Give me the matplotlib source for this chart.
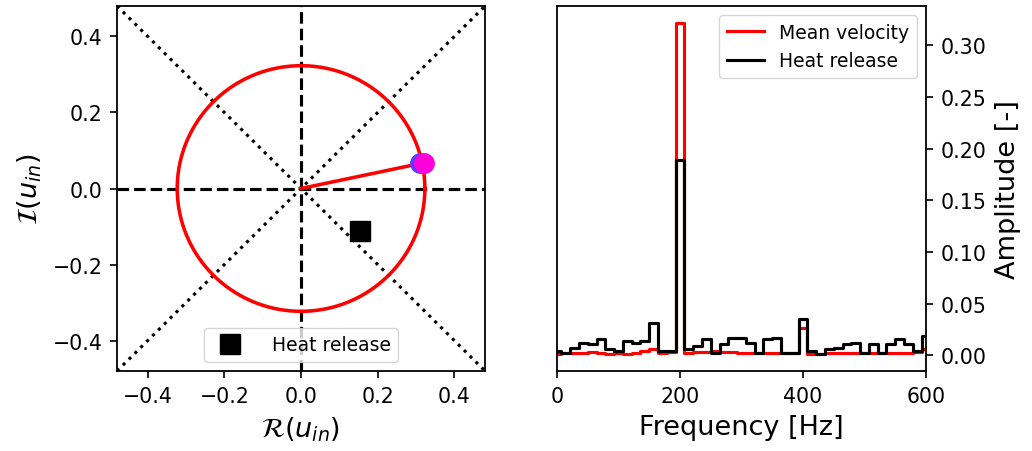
import numpy as np
import matplotlib
matplotlib.use("Agg")
import matplotlib.pyplot as plt

# ---- data ----
circle_radius = 0.323
vel_point = (0.322, 0.068)
vel_point_prev = (0.310, 0.066)
heat_point = (0.153, -0.113)

df = 100.0 / 7.0
freqs = np.arange(43) * df
mean_velocity = [0.0010, 0.0019, 0.0026, 0.0026, 0.0032, 0.0019, 0.0010, 0.0026, 0.0010, 0.0026,
                 0.0042, 0.0058, 0.0026, 0.0032, 0.3220, 0.0026, 0.0032, 0.0032, 0.0042, 0.0032,
                 0.0032, 0.0026, 0.0019, 0.0026, 0.0026, 0.0026, 0.0019, 0.0026, 0.0270, 0.0010,
                 0.0010, 0.0019, 0.0019, 0.0026, 0.0026, 0.0019, 0.0026, 0.0026, 0.0019, 0.0026,
                 0.0026, 0.0032, 0.0058]
heat_release = [0.0042, 0.0019, 0.0074, 0.0122, 0.0106, 0.0155, 0.0058, 0.0042, 0.0139, 0.0122,
                0.0139, 0.0310, 0.0042, 0.0042, 0.1890, 0.0058, 0.0090, 0.0155, 0.0026, 0.0106,
                0.0171, 0.0171, 0.0122, 0.0026, 0.0155, 0.0171, 0.0026, 0.0026, 0.0349, 0.0042,
                0.0010, 0.0058, 0.0074, 0.0106, 0.0122, 0.0026, 0.0106, 0.0026, 0.0106, 0.0155,
                0.0106, 0.0042, 0.0187]

plt.rcParams['axes.linewidth'] = 1.3
plt.rcParams['xtick.major.size'] = 5.3
plt.rcParams['ytick.major.size'] = 5.3
plt.rcParams['xtick.major.width'] = 1.2
plt.rcParams['ytick.major.width'] = 1.2
plt.rcParams['xtick.major.pad'] = 5.3
plt.rcParams['ytick.major.pad'] = 5.3
plt.rcParams['axes.labelpad'] = 6

LW = 2.25
fig = plt.figure(figsize=(10.32, 4.52), dpi=100)

# ---- left panel ----
ax1 = fig.add_axes([0.1134, 0.177, 0.3566, 0.8075])
L = 0.48
ax1.plot([-L, L], [-L, L], ':', color='black', lw=LW)
ax1.plot([-L, L], [L, -L], ':', color='black', lw=LW)
ax1.axhline(0, ls='--', color='black', lw=LW)
ax1.axvline(0, ls='--', color='black', lw=LW)
th = np.linspace(0, 2 * np.pi, 400)
ax1.plot(circle_radius * np.cos(th), circle_radius * np.sin(th), color='red', lw=LW + 0.3)
ax1.plot([0, vel_point[0]], [0, vel_point[1]], color='red', lw=LW + 0.3)
ax1.plot(*vel_point_prev, 'o', color='#5a3cff', ms=14, zorder=4)
ax1.plot(*vel_point, 'o', color='#ff00dd', ms=14, zorder=5)
ax1.plot(*heat_point, 's', color='black', ms=14, ls='none', label='Heat release', zorder=5)
ax1.set_xlim(-L, L)
ax1.set_ylim(-L, L)
ax1.set_xticks([-0.4, -0.2, 0.0, 0.2, 0.4])
ax1.set_yticks([-0.4, -0.2, 0.0, 0.2, 0.4])
ax1.tick_params(labelsize=14.8)
ax1.set_xlabel(r'$\mathcal{R}(u_{in})$', fontsize=19.5)
ax1.set_ylabel(r'$\mathcal{I}(u_{in})$', fontsize=19.5)
ax1.legend(loc='lower center', fontsize=13.5, handletextpad=1.2)

# ---- right panel ----
ax2 = fig.add_axes([0.5397, 0.177, 0.3576, 0.8075])
ax2.step(freqs, mean_velocity, where='mid', color='red', lw=LW, label='Mean velocity')
ax2.step(freqs, heat_release, where='mid', color='black', lw=LW, label='Heat release')
ax2.set_xlim(0, 600)
ax2.set_xticks([0, 200, 400, 600])
ax2.set_yticks([0.0, 0.05, 0.10, 0.15, 0.20, 0.25, 0.30])
ax2.yaxis.tick_right()
ax2.yaxis.set_label_position('right')
ax2.tick_params(labelsize=14.8)
ax2.set_xlabel('Frequency [Hz]', fontsize=19.5)
ax2.set_ylabel('Amplitude [-]', fontsize=19.5)
ax2.legend(loc='upper right', fontsize=13.5)

fig.savefig('out.png', dpi=100)
